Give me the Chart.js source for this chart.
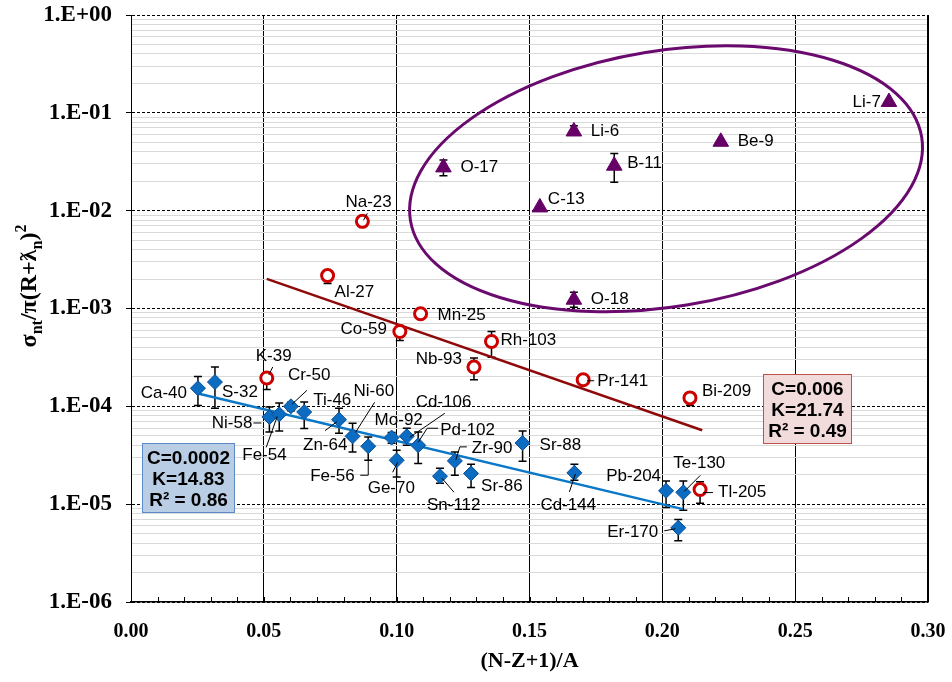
<!DOCTYPE html>
<html>
<head>
<meta charset="utf-8">
<script src="https://cdn.jsdelivr.net/npm/chart.js@4.4.1/dist/chart.umd.min.js"></script>
<style>
html,body{margin:0;padding:0;background:#fff;}
</style>
</head>
<body>
<canvas id="chart" width="952" height="682"></canvas>
<script>
// blue diamonds (A > ~20)
const blueNames = ["Ca-40","S-32","Ni-58","Fe-54","Cr-50","Ti-46","Zn-64","Ni-60","Fe-56","Mo-92","Ge-70",
    "Cd-106","Pd-102","Sn-112","Zr-90","Sr-86","Sr-88","Cd-144","Pb-204","Te-130","Er-170"];
const blueX = [0.0252,0.0316,0.0521,0.0558,0.0602,0.0652,0.0783,0.0834,0.0893,0.0981,0.1000,
    0.1038,0.1081,0.1163,0.1219,0.1280,0.1474,0.1669,0.2014,0.2079,0.2060];
const blueY = [1.53e-4,1.77e-4,7.78e-5,8.28e-5,1.00e-4,8.74e-5,7.31e-5,4.94e-5,3.91e-5,4.79e-5,2.81e-5,
    4.94e-5,4.00e-5,1.93e-5,2.77e-5,2.06e-5,4.22e-5,2.09e-5,1.37e-5,1.32e-5,5.73e-6];
const blueErrHi = [2.02e-4,2.52e-4,9.84e-5,1.08e-4,1.10e-4,1.11e-4,9.55e-5,6.71e-5,4.86e-5,5.4e-5,3.56e-5,
    5.97e-5,5.47e-5,2.33e-5,3.42e-5,2.56e-5,5.60e-5,2.56e-5,1.73e-5,1.73e-5,6.98e-6];
const blueErrLo = [1.02e-4,9.55e-5,5.47e-5,5.60e-5,9.0e-5,5.92e-5,5.30e-5,3.42e-5,2.81e-5,4.2e-5,1.90e-5,
    4.00e-5,2.60e-5,1.64e-5,1.98e-5,1.48e-5,2.75e-5,1.76e-5,9.25e-6,8.69e-6,4.22e-6];

// red open circles
const redNames = ["K-39","Na-23","Al-27","Mn-25","Co-59","Rh-103","Nb-93","Pr-141","Bi-209","Tl-205"];
const redX = [0.0511,0.0871,0.0740,0.1090,0.1012,0.1357,0.1291,0.1702,0.2104,0.2142];
const redY = [1.95e-4,7.78e-3,2.17e-3,8.83e-4,5.82e-4,4.60e-4,2.52e-4,1.87e-4,1.22e-4,1.41e-5];
const redErrHi = [2.2e-4,null,2.4e-3,null,6.7e-4,5.82e-4,3.11e-4,null,1.35e-4,1.69e-5];
const redErrLo = [1.49e-4,null,1.8e-3,null,4.71e-4,3.18e-4,1.87e-4,null,1.02e-4,1.02e-5];

// purple triangles (light nuclei)
const purpleNames = ["O-17","Li-6","B-11","C-13","O-18","Be-9","Li-7"];
const purpleX = [0.1176,0.1667,0.1819,0.1539,0.1667,0.2220,0.2853];
const purpleY = [2.77e-2,6.45e-2,2.88e-2,1.08e-2,1.23e-3,5.06e-2,0.129];
const purpleErrHi = [3.29e-2,7.37e-2,3.85e-2,null,1.47e-3,null,null];
const purpleErrLo = [2.28e-2,5.9e-2,1.95e-2,null,1.03e-3,null,null];

// trend lines, end points
const blueFitX = [0.0252,0.2077];
const blueFitY = [1.35e-4,8.9e-6];
const redFitX = [0.0511,0.2150];
const redFitY = [2.01e-3,5.69e-5];

const blueFitText = ["C=0.0002","K=14.83","R\u00b2 = 0.86"];
const redFitText = ["C=0.006","K=21.74","R\u00b2 = 0.49"];

const yDecades = [1e-6,1e-5,1e-4,1e-3,1e-2,1e-1,1];
const yTickLabels = ["1.E-06","1.E-05","1.E-04","1.E-03","1.E-02","1.E-01","1.E+00"];

// label placement (pixels from the point)
const blueLayout = [
    {dx:-11, dy:5, align:"right"},
    {dx:7, dy:10},
    {dx:-17, dy:6, align:"right", lead:[[-16,6],[-8,6]]},
    {dx:-37, dy:41, lead:[[-13,33],[-2,2]]},
    {dx:-3, dy:-31, lead:[[16,-16],[1,-2]]},
    {dx:9, dy:-12},
    {dx:-36, dy:26, lead:[[-14,11],[-2,2]]},
    {dx:1, dy:-45, lead:[[22,-34],[3,-4]]},
    {dx:-58, dy:30, lead:[[-8,29],[0,29],[0,14]]},
    {dx:-17, dy:-17},
    {dx:-29, dy:28, lead:[[-4,12],[1,2]]},
    {dx:9, dy:-34, lead:[[38,-23],[3,1]]},
    {dx:22, dy:-15, lead:[[20,-17],[9,-17],[0,-3]]},
    {dx:-13, dy:29, lead:[[14,16],[2,2]]},
    {dx:17, dy:-13, lead:[[12,-14],[5,-14],[1,-1]]},
    {dx:10, dy:13},
    {dx:17, dy:2},
    {dx:-34, dy:32, lead:[[-5,19],[1,1]]},
    {dx:-5, dy:-14, align:"right"},
    {dx:-10, dy:-29, lead:[[17,-17],[1,-1]]},
    {dx:-20, dy:4, align:"right", lead:[[-14,3],[-3,1]]}
];
const redLayout = [
    {dx:-11, dy:-22, lead:[[6,-11],[2,-3]]},
    {dx:-17, dy:-19, lead:[[5,-8],[1,-1]]},
    {dx:7, dy:17},
    {dx:17, dy:2},
    {dx:-13, dy:-2, align:"right"},
    {dx:9, dy:-1},
    {dx:-12, dy:-8, align:"right"},
    {dx:14, dy:2, lead:[[4,1],[11,1]]},
    {dx:12, dy:-7},
    {dx:18, dy:3, lead:[[3,3],[13,3]]}
];
const purpleLayout = [
    {dx:17, dy:0},
    {dx:17, dy:0},
    {dx:13, dy:-2},
    {dx:8, dy:-8},
    {dx:17, dy:0},
    {dx:17, dy:0},
    {dx:-8, dy:0, align:"right"}
];

const SERIF = "'Liberation Serif','Times New Roman','DejaVu Serif',serif";
const SANS = "'Liberation Sans',Arial,sans-serif";

function pts(xs, ys){
    return xs.map((x,i)=>({x:x, y:ys[i]}));
}

function isDecade(v){
    const l = Math.log10(v);
    return Math.abs(l - Math.round(l)) < 1e-6;
}

function isMajorX(v){
    return Math.abs(v*20 - Math.round(v*20)) < 1e-6;
}

const series = [
    {ds:2, names:blueNames, hi:blueErrHi, lo:blueErrLo, layout:blueLayout},
    {ds:3, names:redNames, hi:redErrHi, lo:redErrLo, layout:redLayout},
    {ds:4, names:purpleNames, hi:purpleErrHi, lo:purpleErrLo, layout:purpleLayout}
];

function drawBox(ctx, x, y, w, h, fill, stroke, lines){
    ctx.save();
    ctx.fillStyle = fill;
    ctx.strokeStyle = stroke;
    ctx.lineWidth = 1;
    ctx.fillRect(x, y, w, h);
    ctx.strokeRect(x+0.5, y+0.5, w-1, h-1);
    ctx.fillStyle = "#000";
    ctx.font = "bold 19px " + SANS;
    ctx.textAlign = "center";
    ctx.textBaseline = "middle";
    lines.forEach((t,i)=>ctx.fillText(t, x + w/2, y + 16 + i*21));
    ctx.restore();
}

function drawYTitle(ctx, cx, cy){
    const big = "bold 24px " + SERIF;
    const small = "bold 16px " + SERIF;
    const parts = [
        {t:"\u03c3", f:big, o:0},
        {t:"nt", f:small, o:6},
        {t:"/\u03c0(R+", f:big, o:0},
        {t:"\u019b", f:big, o:0},
        {t:"n", f:small, o:6},
        {t:")", f:big, o:0},
        {t:"2", f:small, o:-10}
    ];
    ctx.save();
    let total = 0;
    parts.forEach(p=>{ ctx.font = p.f; p.w = ctx.measureText(p.t).width; total += p.w; });
    ctx.translate(cx, cy);
    ctx.rotate(-Math.PI/2);
    ctx.fillStyle = "#000";
    ctx.textBaseline = "alphabetic";
    let x = -total/2;
    parts.forEach(p=>{
        ctx.font = p.f;
        ctx.fillText(p.t, x, 8 + p.o);
        x += p.w;
    });
    ctx.restore();
}

const decor = {
    id: "decor",
    beforeDatasetsDraw(chart){
        const ctx = chart.ctx;
        const ys = chart.scales.y;
        ctx.save();
        ctx.strokeStyle = "#000";
        ctx.lineWidth = 1.5;
        series.forEach(s=>{
            const meta = chart.getDatasetMeta(s.ds);
            meta.data.forEach((p,i)=>{
                if(s.hi[i] == null) return;
                const top = ys.getPixelForValue(s.hi[i]);
                const bot = ys.getPixelForValue(s.lo[i]);
                ctx.beginPath();
                ctx.moveTo(p.x, top); ctx.lineTo(p.x, bot);
                ctx.moveTo(p.x-4, top); ctx.lineTo(p.x+4, top);
                ctx.moveTo(p.x-4, bot); ctx.lineTo(p.x+4, bot);
                ctx.stroke();
            });
        });
        ctx.restore();
    },
    afterDatasetsDraw(chart){
        const ctx = chart.ctx;
        const ca = chart.chartArea;
        const xs = chart.scales.x, ys = chart.scales.y;

        // minor x ticks, inside
        ctx.save();
        ctx.strokeStyle = "#000";
        ctx.lineWidth = 1;
        xs.ticks.forEach(t=>{
            const px = Math.round(xs.getPixelForValue(t.value)) + 0.5;
            ctx.beginPath();
            ctx.moveTo(px, ca.bottom); ctx.lineTo(px, ca.bottom-5);
            ctx.stroke();
        });
        // right frame
        ctx.beginPath();
        ctx.moveTo(ca.right-0.5, ca.top); ctx.lineTo(ca.right-0.5, ca.bottom);
        ctx.stroke();
        ctx.restore();

        // ellipse round the light nuclei
        ctx.save();
        ctx.strokeStyle = "#6a0a6e";
        ctx.lineWidth = 3;
        ctx.beginPath();
        ctx.ellipse(xs.getPixelForValue(0.2014), ys.getPixelForValue(0.0212), 259, 128, -9.25*Math.PI/180, 0, Math.PI*2);
        ctx.stroke();
        ctx.restore();

        // point labels and leaders
        ctx.save();
        ctx.font = "17px " + SANS;
        ctx.fillStyle = "#000";
        ctx.strokeStyle = "#000";
        ctx.lineWidth = 1;
        ctx.textBaseline = "middle";
        series.forEach(s=>{
            const meta = chart.getDatasetMeta(s.ds);
            meta.data.forEach((p,i)=>{
                const L = s.layout[i];
                ctx.textAlign = L.align || "left";
                ctx.fillText(s.names[i], p.x + L.dx, p.y + L.dy);
                if(L.lead){
                    ctx.beginPath();
                    L.lead.forEach((q,k)=>{
                        if(k === 0) ctx.moveTo(p.x+q[0], p.y+q[1]);
                        else ctx.lineTo(p.x+q[0], p.y+q[1]);
                    });
                    ctx.stroke();
                }
            });
        });
        ctx.restore();

        drawBox(ctx, ca.left+11, ca.top+428, 93, 70, "#b9cde5", "#5b8ac6", blueFitText);
        drawBox(ctx, ca.left+632, ca.top+359, 89, 70, "#f2dcdb", "#c0504d", redFitText);
    },
    afterDraw(chart){
        drawYTitle(chart.ctx, 28, 286);
    }
};

new Chart(document.getElementById("chart"), {
    type: "scatter",
    data: {
        datasets: [
            {
                type: "line",
                data: pts(blueFitX, blueFitY),
                borderColor: "#0a78c8",
                borderWidth: 2.5,
                pointRadius: 0,
                fill: false,
                order: 5
            },
            {
                type: "line",
                data: pts(redFitX, redFitY),
                borderColor: "#8e0a0a",
                borderWidth: 2.5,
                pointRadius: 0,
                fill: false,
                order: 5
            },
            {
                data: pts(blueX, blueY),
                pointStyle: "rectRot",
                pointRadius: 7.5,
                backgroundColor: "#0b6cc2",
                borderColor: "#0a4f96",
                borderWidth: 1,
                order: 1
            },
            {
                data: pts(redX, redY),
                pointStyle: "circle",
                pointRadius: 6,
                backgroundColor: "#ffffff",
                borderColor: "#cc0000",
                borderWidth: 3,
                order: 1
            },
            {
                data: pts(purpleX, purpleY),
                pointStyle: "triangle",
                pointRadius: 9,
                backgroundColor: "#660066",
                borderColor: "#660066",
                borderWidth: 1,
                order: 1
            }
        ]
    },
    options: {
        responsive: false,
        devicePixelRatio: 1,
        animation: false,
        layout: {autoPadding: false, padding: {left: 0, right: 24, top: 15, bottom: 0}},
        plugins: {legend: {display: false}, tooltip: {enabled: false}},
        scales: {
            x: {
                type: "linear",
                min: 0,
                max: 0.3,
                afterFit(s){ s.height = 80; s.paddingLeft = 0; s.paddingRight = 0; },
                ticks: {
                    stepSize: 0.01,
                    autoSkip: false,
                    maxRotation: 0,
                    padding: 18,
                    color: "#000",
                    font: {family: SERIF, weight: "bold", size: 20},
                    callback: v => isMajorX(v) ? v.toFixed(2) : ""
                },
                grid: {
                    drawTicks: false,
                    lineWidth: 1,
                    color: c => (c.tick && isMajorX(c.tick.value)) ? "#000" : "rgba(0,0,0,0)"
                },
                border: {color: "#000", width: 1.5},
                title: {
                    display: true,
                    text: "(N-Z+1)/A",
                    color: "#000",
                    font: {family: SERIF, weight: "bold", size: 22},
                    padding: {top: 0, bottom: 7}
                }
            },
            y: {
                type: "logarithmic",
                min: 1e-6,
                max: 1,
                afterFit(s){ s.width = 131; s.paddingTop = 0; s.paddingBottom = 0; },
                afterBuildTicks(s){
                    const v = [];
                    for(let i = 0; i < yDecades.length - 1; i++){
                        for(let k = 1; k <= 9; k++) v.push(yDecades[i]*k);
                    }
                    v.push(yDecades[yDecades.length-1]);
                    s.ticks = v.map(x=>({value: x}));
                },
                ticks: {
                    autoSkip: false,
                    padding: 14,
                    color: "#000",
                    font: {family: SERIF, weight: "bold", size: 23},
                    callback: v => {
                        const i = yDecades.findIndex(d => Math.abs(d - v)/d < 1e-6);
                        return i >= 0 ? yTickLabels[i] : "";
                    }
                },
                grid: {
                    lineWidth: 1,
                    tickLength: 5,
                    color: c => (c.tick && isDecade(c.tick.value)) ? "#000" : "#d9d9d9",
                    tickColor: c => (c.tick && isDecade(c.tick.value)) ? "#000" : "rgba(0,0,0,0)"
                },
                border: {
                    color: "#000",
                    width: 1,
                    dash: c => (c.tick && isDecade(c.tick.value)) ? [3,2] : []
                }
            }
        }
    },
    plugins: [decor]
});
</script>
</body>
</html>
